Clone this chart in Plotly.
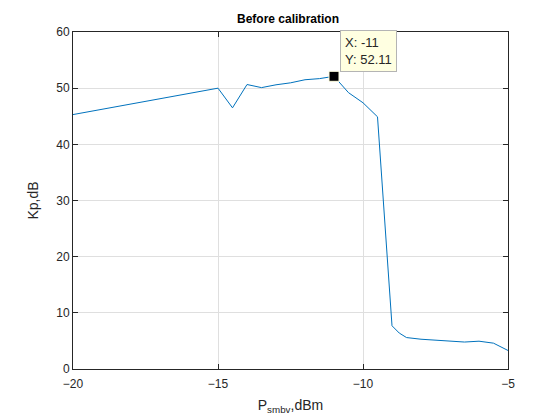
import plotly.graph_objects as go

# Измеренные точки
p_smbv = [-20, -19, -18, -17, -16, -15, -14.5, -14, -13.5, -13, -12.5, -12, -11.5,
          -11, -10.5, -10, -9.5, -9, -8.75, -8.5, -8, -7.5, -7, -6.5, -6, -5.5, -5]
kp = [45.3, 46.24, 47.18, 48.12, 49.06, 50.0, 46.5, 50.65, 50.1, 50.6, 50.95, 51.5, 51.7,
      52.11, 49.2, 47.4, 44.9, 7.7, 6.4, 5.6, 5.3, 5.1, 4.9, 4.8, 4.95, 4.6, 3.3]

# Точка подсказки (datatip)
tip_x = [-11]
tip_y = [52.11]

x_ticks = [-20, -15, -10, -5]
y_ticks = [0, 10, 20, 30, 40, 50, 60]

fig = go.Figure()
fig.add_trace(go.Scatter(x=p_smbv, y=kp, mode="lines",
                         line=dict(color="#0072BD", width=1), showlegend=False))
fig.add_trace(go.Scatter(x=tip_x, y=tip_y, mode="markers",
                         marker=dict(symbol="square", size=10, color="black",
                                     line=dict(color="#ffffe1", width=1)),
                         showlegend=False))

fig.add_annotation(x=tip_x[0], y=tip_y[0], text="X: -11<br>Y: 52.11",
                   showarrow=False, xanchor="left", yanchor="bottom", align="left",
                   xshift=6, yshift=4, bgcolor="#ffffe1", bordercolor="#b4b4b4",
                   borderwidth=1, borderpad=4,
                   font=dict(family="Liberation Sans, Arial", size=13, color="#262626"))

axis_style = dict(showgrid=True, gridcolor="#dfdfdf", gridwidth=1,
                  showline=True, linecolor="#262626", linewidth=1, mirror="ticks",
                  ticks="inside", ticklen=5, tickcolor="#262626",
                  zeroline=False, tickfont=dict(size=12, color="#262626"))

fig.update_xaxes(range=[-20, -5], tickvals=x_ticks, ticklabelstandoff=4,
                 title=dict(text="P<sub>smbv</sub>,dBm", font=dict(size=14, color="#262626"),
                            standoff=9),
                 **axis_style)
fig.update_yaxes(range=[0, 60], tickvals=y_ticks,
                 title=dict(text="Kp,dB", font=dict(size=14, color="#262626"), standoff=14),
                 **axis_style)

fig.update_layout(
    width=560, height=420,
    title=dict(text="<b>Before calibration</b>", x=0.5, xanchor="center",
               y=0.974, yanchor="middle", font=dict(size=12, color="black")),
    font=dict(family="Liberation Sans, Arial"),
    plot_bgcolor="white", paper_bgcolor="white",
    margin=dict(l=65, r=60, t=24, b=59),
)

fig.write_html("out.html")
